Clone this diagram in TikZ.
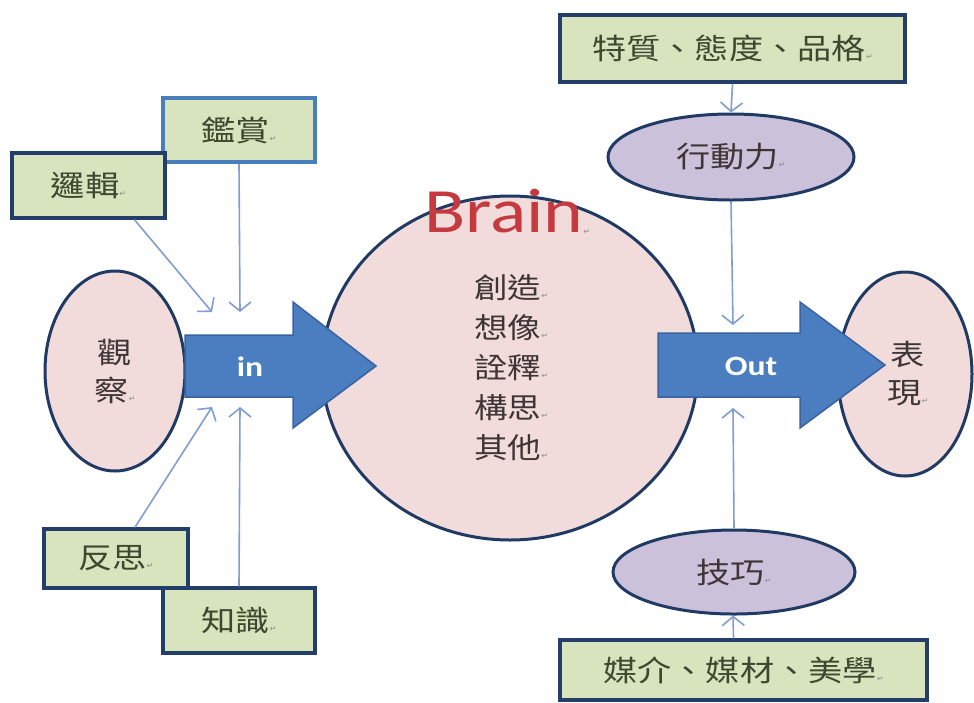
\documentclass[tikz,border=0pt]{standalone}
\usepackage{fontspec}
\usetikzlibrary{shapes.geometric,arrows.meta}
\newfontfamily\cjk[FakeStretch=1.18]{Noto Sans CJK TC}
\newfontfamily\calib[FakeStretch=1.2]{Carlito}
\newfontfamily\symfont{DejaVu Sans}
\definecolor{boxfill}{RGB}{215,228,189}
\definecolor{boxline}{RGB}{36,62,106}
\definecolor{boxlinelight}{RGB}{74,126,187}
\definecolor{pinkfill}{RGB}{242,220,219}
\definecolor{purplefill}{RGB}{204,193,218}
\definecolor{ovline}{RGB}{33,58,100}
\definecolor{arrowfill}{RGB}{74,126,193}
\definecolor{arrowline}{RGB}{58,98,158}
\definecolor{conn}{RGB}{128,158,210}
\definecolor{boxtext}{RGB}{62,72,48}
\definecolor{ovtext}{RGB}{62,54,54}
\definecolor{brainred}{RGB}{196,58,62}
\definecolor{markgray}{RGB}{140,140,140}
\newcommand\pmk{{\symfont\fontsize{8}{8}\selectfont\color{markgray}↵}}
\tikzset{
  gbox/.style={draw=boxline, line width=3.5pt, fill=boxfill, inner sep=0pt,
    text=boxtext, font=\cjk\fontsize{29}{29}\selectfont},
  pinkov/.style={ellipse, draw=ovline, line width=3pt, fill=pinkfill, inner sep=0pt,
    text=ovtext, align=center, font=\cjk\fontsize{29}{38}\selectfont},
  purpov/.style={ellipse, draw=ovline, line width=3pt, fill=purplefill, inner sep=0pt,
    text=ovtext, font=\cjk\fontsize{29}{29}\selectfont},
  bigarrow/.style={draw=arrowline, line width=1.5pt, fill=arrowfill},
  arrowlabel/.style={text=white, font=\calib\bfseries\fontsize{28}{28}\selectfont},
  feed/.style={draw=conn, line width=1.6pt, -{Straight Barb[length=9pt,width=22pt,line width=1.6pt]}}
}
\begin{document}
\begin{tikzpicture}[x=1pt,y=-1pt]
\useasboundingbox (0,0) rectangle (974,702);
\fill[white] (0,0) rectangle (974,702);

% ovals and brain circle
\node[pinkov, minimum width=140pt, minimum height=200pt] (guancha) at (115,371) {觀\\察\pmk};
\node[pinkov, minimum width=134pt, minimum height=204pt] (biaoxian) at (905,374) {\hspace*{6pt}表\\\hspace*{6pt}現\pmk};
\node[ellipse, draw=ovline, line width=3pt, fill=pinkfill, inner sep=0pt,
      minimum width=376pt, minimum height=344pt] (brain) at (510,368) {};
\node[text=brainred, font=\calib\fontsize{63}{63}\selectfont, inner sep=0pt] (braint) at (507,212) {Brain\raisebox{-2pt}{\pmk}};
\node[text=ovtext, align=center, inner sep=0pt, font=\cjk\fontsize{28.5}{40}\selectfont] (brainlist) at (511,368)
  {創造\pmk\\想像\pmk\\詮釋\pmk\\構思\pmk\\其他\pmk};

\node[purpov, minimum width=246pt, minimum height=86pt] (xingdong) at (731,157) {行動力\pmk};
\node[purpov, minimum width=242pt, minimum height=84pt] (jiqiao) at (734,572) {技巧\pmk};

% big arrows
\path[bigarrow] (185,335) -- (293,335) -- (293,302) -- (376,366) -- (293,428) -- (293,397) -- (185,397) -- cycle;
\node[arrowlabel] (inlabel) at (250,367) {in};
\path[bigarrow] (658,333) -- (800,333) -- (800,302) -- (885,365) -- (800,428) -- (800,397) -- (658,397) -- cycle;
\node[arrowlabel] (outlabel) at (751,366) {Out};

% boxes
\node[gbox, draw=boxlinelight, minimum width=152pt, minimum height=64pt] (jianshang) at (239,130) {鑑賞\pmk};
\node[gbox, minimum width=153pt, minimum height=65pt] (luoji) at (88.5,185.5) {邏輯\pmk};
\node[gbox, minimum width=144pt, minimum height=59pt] (fansi) at (116,558.5) {反思\pmk};
\node[gbox, minimum width=152pt, minimum height=65pt] (zhishi) at (239,620.5) {知識\pmk};
\node[gbox, minimum width=345pt, minimum height=67pt] (tezhi) at (732.5,48.5) {特質、態度、品格\pmk};
\node[gbox, minimum width=367pt, minimum height=60pt] (meijie) at (743.5,670) {媒介、媒材、美學\pmk};

% arrow end points
\coordinate (inA) at (212,312);
\coordinate (inB) at (240,312);
\coordinate (inC) at (212,407);
\coordinate (inD) at (240,407);
\coordinate (outA) at (733,325);
\coordinate (outB) at (733,408);

% connectors
\draw[feed] ([xshift=46pt]luoji.south) -- (inA);
\draw[feed] (jianshang.south) -- (inB);
\draw[feed] ([xshift=19pt]fansi.north) -- (inC);
\draw[feed] (zhishi.north) -- (inD);
\draw[feed] (tezhi.south) -- (xingdong.north);
\draw[feed] (xingdong.south) -- (outA);
\draw[feed] (jiqiao.north) -- (outB);
\draw[feed] ([xshift=-10pt]meijie.north) -- ([xshift=-1pt]jiqiao.south);
\end{tikzpicture}
\end{document}
